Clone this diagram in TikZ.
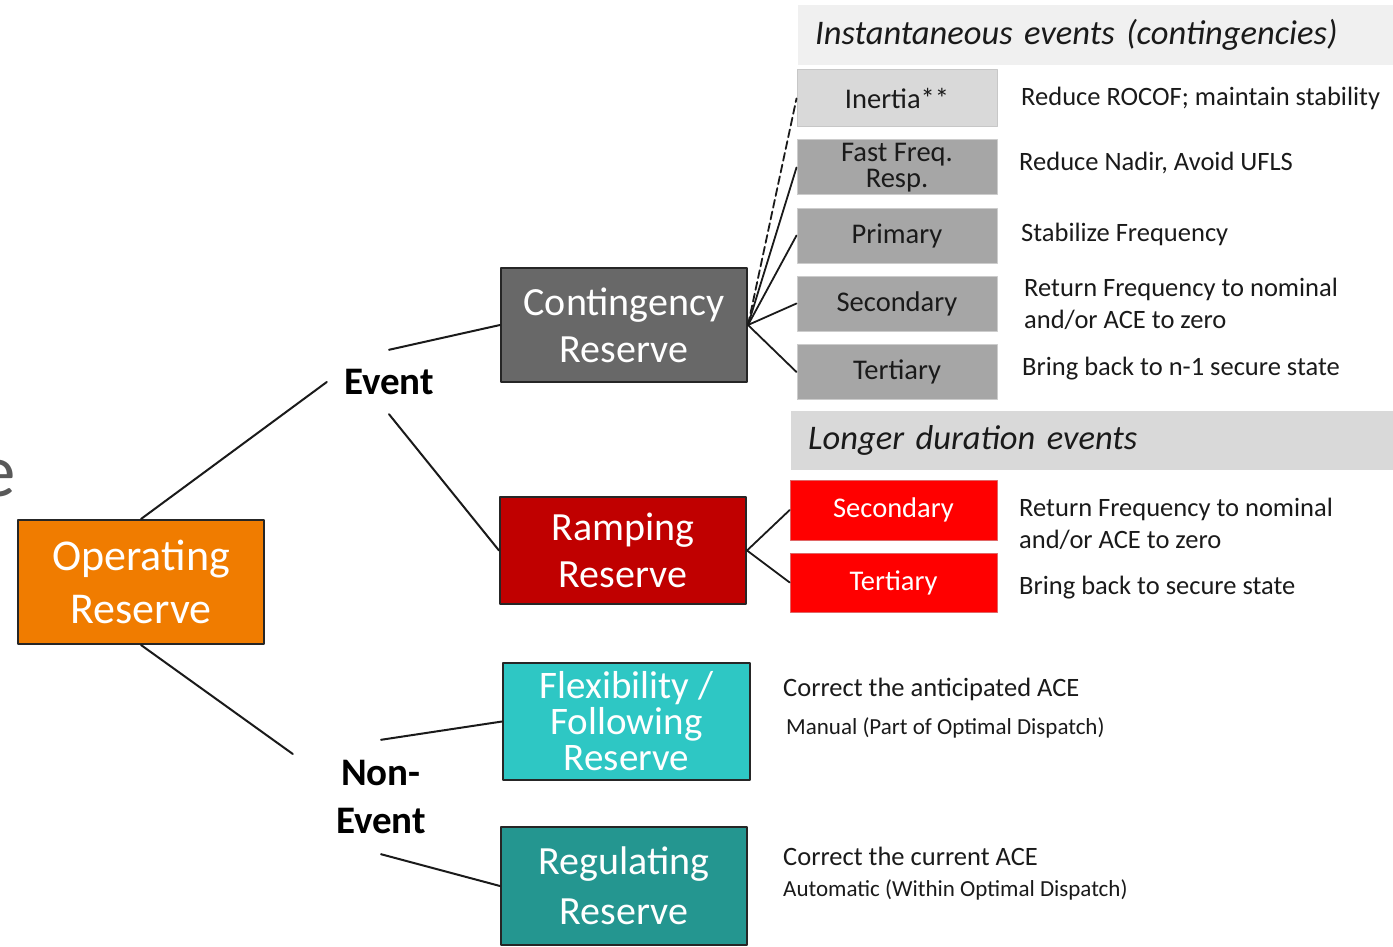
\documentclass[tikz,border=0pt]{standalone}
\usepackage{fontspec}
\setmainfont{Carlito}

\definecolor{opOrange}{RGB}{240,124,0}
\definecolor{contGray}{RGB}{104,104,104}
\definecolor{rampRed}{RGB}{192,0,0}
\definecolor{flexCyan}{RGB}{46,199,196}
\definecolor{regTeal}{RGB}{36,150,144}
\definecolor{inrGray}{RGB}{217,217,217}
\definecolor{stepGray}{RGB}{166,166,166}
\definecolor{fastRed}{RGB}{255,0,0}
\definecolor{hdrLight}{RGB}{240,240,240}
\definecolor{hdrDark}{RGB}{217,217,217}
\definecolor{txtDark}{RGB}{26,26,26}

\begin{document}
\begin{tikzpicture}[x=1pt,y=-1pt,line join=round,line cap=round,
    conn/.style={line width=2pt,draw=txtDark},
    resbox/.style={draw=black!85,line width=2pt,text=white,align=center,inner sep=0pt,
        minimum width=246pt,font=\fontsize{40}{47}\selectfont},
    stepbox/.style={draw=black!20,line width=1pt,fill=stepGray,text=txtDark,align=center,inner sep=0pt,
        minimum width=200pt,minimum height=55pt,font=\fontsize{28.5}{26}\selectfont},
    redbox/.style={fill=fastRed,draw=fastRed!80!black!60,line width=0.6pt,text=white,inner sep=0pt,
        minimum width=207pt,font=\fontsize{28.5}{26}\selectfont},
    hdr/.style={anchor=north west,inner sep=0pt,inner xsep=17pt,align=left,minimum height=60pt,
        font=\fontsize{34.5}{38}\selectfont\itshape,text=txtDark},
    tag/.style={inner sep=0pt,align=center,text=black,font=\fontsize{39}{48}\selectfont\bfseries},
    desc/.style={anchor=west,inner sep=0pt,align=left,text=txtDark,font=\fontsize{26.5}{32}\selectfont},
    descsmall/.style={desc,font=\fontsize{23}{26}\selectfont}]
\useasboundingbox (0,0) rectangle (1393,947);

% cropped letter at the left edge
\node[anchor=base east,inner sep=0pt,text=black!65,font=\fontsize{75}{75}\selectfont] (frag) at (16,496) {e};

% reserve boxes
\node[resbox,fill=opOrange,minimum height=124pt,font=\fontsize{44}{53}\selectfont] (opr) at (141,582) {Operating\\Reserve};
\node[resbox,fill=contGray,minimum height=114pt] (cont) at (624,325) {Contingency\\Reserve};
\node[resbox,fill=rampRed,minimum height=107pt] (ramp) at (623,550.5) {Ramping\\Reserve};
\node[resbox,fill=flexCyan,minimum height=117pt,minimum width=247pt,font=\fontsize{39}{36}\selectfont] (flex) at (626.5,721.5) {Flexibility /\\Following\\Reserve};
\node[resbox,fill=regTeal,minimum height=118pt,font=\fontsize{40}{50}\selectfont] (reg) at (624,886) {Regulating\\Reserve};

% branch labels
\node[tag,minimum width=124pt,minimum height=64pt] (ev) at (389,382) {Event};
\node[tag,minimum width=176pt,minimum height=114pt] (nev) at (381,797) {Non-\\Event};

% headers
\node[hdr,fill=hdrLight,text width=561pt] (hinst) at (798,5) {Instantaneous events (contingencies)};
\node[hdr,fill=hdrDark,text width=568pt,minimum height=59pt] (hlong) at (791,411) {Longer duration events};

% contingency steps
\node[stepbox,fill=inrGray,draw=black!22,minimum height=57pt] (inr) at (897,98.5) {Inertia**};
\foreach \n/\y/\t in {ffr/167.5/{Fast Freq.\\Resp.},pri/235.5/Primary,sec/303.5/Secondary,ter/372/Tertiary}
  \node[stepbox] (\n) at (897,\y) {\t};

% ramping steps
\node[redbox,minimum height=60pt] (rsec) at (893.5,510) {Secondary};
\node[redbox,minimum height=59pt] (rter) at (893.5,582.5) {Tertiary};

% descriptions
\node[desc] (dinr) at (1021,98) {Reduce ROCOF; maintain stability};
\node[desc] (dffr) at (1019,163) {Reduce Nadir, Avoid UFLS};
\node[desc] (dpri) at (1021,234) {Stabilize Frequency};
\node[desc] (dsec) at (1024,304) {Return Frequency to nominal\\and/or ACE to zero};
\node[desc] (dter) at (1022,369) {Bring back to n-1 secure state};
\node[desc] (drsec) at (1019,523.5) {Return Frequency to nominal\\and/or ACE to zero};
\node[desc] (drter) at (1019,588) {Bring back to secure state};
\node[desc] (dflex) at (783,689) {Correct the anticipated ACE};
\node[descsmall] (dflexb) at (786,728) {Manual (Part of Optimal Dispatch)};
\node[desc] (dreg) at (783,856) {Correct the current ACE};
\node[descsmall] (dregb) at (783,890) {Automatic (Within Optimal Dispatch)};

% connectors
\draw[conn] (opr.north) -- (ev.west) (opr.south) -- (nev.154);
\draw[conn] (ev.north) -- (cont.west) (ev.south) -- (ramp.west);
\draw[conn] (nev.north) -- (flex.west) (nev.south) -- (reg.west);
\draw[conn,line width=1.8pt,dash pattern=on 8pt off 4pt] (cont.east) -- (inr.west);
\foreach \n in {ffr,pri,sec,ter}
  \draw[conn,line width=1.8pt] (cont.east) -- (\n.west);
\foreach \n in {rsec,rter}
  \draw[conn,line width=1.8pt] (ramp.east) -- (\n.west);
\end{tikzpicture}
\end{document}
